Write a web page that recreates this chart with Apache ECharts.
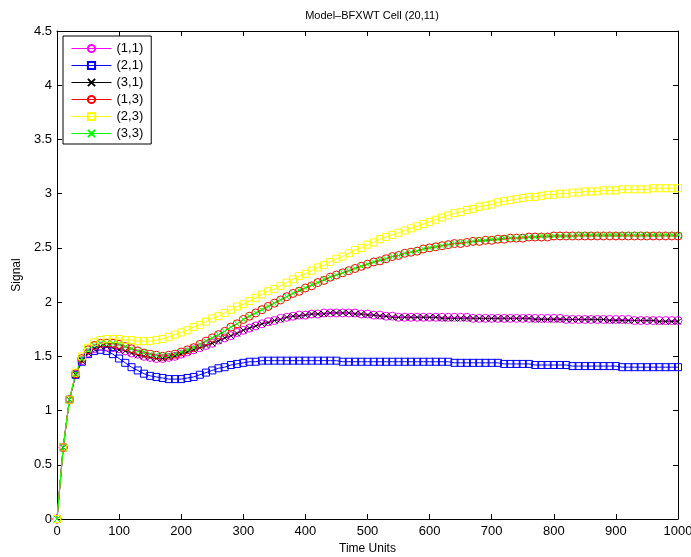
<!DOCTYPE html>
<html>
<head>
<meta charset="utf-8">
<script src="https://cdn.jsdelivr.net/npm/echarts@6/dist/echarts.min.js"></script>
<style>
    html, body { margin: 0; padding: 0; background: #fff; }
    #chart { width: 691px; height: 557px; }
</style>
</head>
<body>
<div id="chart"></div>
<script>
// sampling grid: every 10 time units, 0..1000
const time = Array.from({length: 101}, (_, i) => i * 10)

const xTicks = [0, 100, 200, 300, 400, 500, 600, 700, 800, 900, 1000]
const yTicks = [0, 0.5, 1, 1.5, 2, 2.5, 3, 3.5, 4, 4.5]

const s11 = [
    0, 0.66, 1.10, 1.33, 1.46, 1.53, 1.57, 1.59, 1.59, 1.58,
    1.57, 1.55, 1.53, 1.52, 1.50, 1.49, 1.48, 1.48, 1.49, 1.50,
    1.52, 1.54, 1.56, 1.58, 1.60, 1.62, 1.65, 1.67, 1.69, 1.72,
    1.74, 1.76, 1.78, 1.80, 1.82, 1.83, 1.85, 1.86, 1.87, 1.88,
    1.88, 1.89, 1.89, 1.90, 1.90, 1.90, 1.90, 1.90, 1.90, 1.89,
    1.89, 1.88, 1.88, 1.87, 1.87, 1.86, 1.86, 1.86, 1.86, 1.86,
    1.86, 1.86, 1.86, 1.86, 1.86, 1.86, 1.86, 1.85, 1.85, 1.85,
    1.85, 1.85, 1.85, 1.85, 1.85, 1.85, 1.85, 1.85, 1.85, 1.85,
    1.85, 1.85, 1.84, 1.84, 1.84, 1.84, 1.84, 1.84, 1.84, 1.84,
    1.84, 1.84, 1.84, 1.83, 1.83, 1.83, 1.83, 1.83, 1.83, 1.83,
    1.83
]
const s21 = [
    0, 0.66, 1.10, 1.33, 1.45, 1.52, 1.55, 1.56, 1.55, 1.52,
    1.48, 1.44, 1.40, 1.37, 1.34, 1.32, 1.31, 1.30, 1.29, 1.29,
    1.29, 1.30, 1.31, 1.33, 1.35, 1.37, 1.39, 1.40, 1.42, 1.43,
    1.44, 1.45, 1.45, 1.46, 1.46, 1.46, 1.46, 1.46, 1.46, 1.46,
    1.46, 1.46, 1.46, 1.46, 1.46, 1.46, 1.45, 1.45, 1.45, 1.45,
    1.45, 1.45, 1.45, 1.45, 1.45, 1.45, 1.45, 1.45, 1.45, 1.45,
    1.45, 1.45, 1.45, 1.45, 1.44, 1.44, 1.44, 1.44, 1.44, 1.44,
    1.44, 1.44, 1.43, 1.43, 1.43, 1.43, 1.43, 1.42, 1.42, 1.42,
    1.42, 1.42, 1.42, 1.41, 1.41, 1.41, 1.41, 1.41, 1.41, 1.41,
    1.41, 1.40, 1.40, 1.40, 1.40, 1.40, 1.40, 1.40, 1.40, 1.40,
    1.40
]
const s31 = [
    0, 0.66, 1.10, 1.33, 1.46, 1.53, 1.57, 1.59, 1.59, 1.58,
    1.56, 1.55, 1.53, 1.51, 1.50, 1.49, 1.48, 1.48, 1.49, 1.50,
    1.52, 1.54, 1.56, 1.58, 1.60, 1.62, 1.64, 1.67, 1.69, 1.71,
    1.74, 1.76, 1.78, 1.80, 1.81, 1.83, 1.84, 1.86, 1.87, 1.87,
    1.88, 1.89, 1.89, 1.89, 1.90, 1.90, 1.90, 1.90, 1.89, 1.89,
    1.88, 1.88, 1.87, 1.87, 1.86, 1.86, 1.86, 1.86, 1.86, 1.86,
    1.86, 1.86, 1.85, 1.85, 1.85, 1.85, 1.85, 1.85, 1.85, 1.85,
    1.85, 1.85, 1.85, 1.85, 1.85, 1.85, 1.85, 1.84, 1.84, 1.84,
    1.84, 1.84, 1.84, 1.84, 1.84, 1.84, 1.84, 1.84, 1.84, 1.83,
    1.83, 1.83, 1.83, 1.83, 1.83, 1.83, 1.83, 1.82, 1.82, 1.82,
    1.82
]
const s13 = [
    0, 0.66, 1.10, 1.34, 1.48, 1.56, 1.60, 1.62, 1.62, 1.62,
    1.61, 1.59, 1.57, 1.55, 1.53, 1.52, 1.51, 1.50, 1.51, 1.52,
    1.54, 1.56, 1.58, 1.61, 1.64, 1.67, 1.70, 1.73, 1.77, 1.80,
    1.84, 1.87, 1.90, 1.93, 1.96, 1.99, 2.02, 2.05, 2.08, 2.10,
    2.13, 2.15, 2.18, 2.20, 2.23, 2.25, 2.27, 2.29, 2.31, 2.33,
    2.35, 2.37, 2.38, 2.40, 2.42, 2.43, 2.45, 2.46, 2.47, 2.49,
    2.50, 2.51, 2.52, 2.53, 2.54, 2.54, 2.55, 2.56, 2.56, 2.57,
    2.57, 2.58, 2.58, 2.59, 2.59, 2.59, 2.60, 2.60, 2.60, 2.60,
    2.61, 2.61, 2.61, 2.61, 2.61, 2.61, 2.61, 2.61, 2.61, 2.61,
    2.61, 2.61, 2.61, 2.61, 2.61, 2.61, 2.61, 2.61, 2.61, 2.61,
    2.61
]
const s23 = [
    0, 0.66, 1.10, 1.35, 1.50, 1.58, 1.63, 1.65, 1.66, 1.66,
    1.66, 1.65, 1.65, 1.64, 1.64, 1.64, 1.65, 1.66, 1.68, 1.70,
    1.72, 1.74, 1.77, 1.79, 1.82, 1.85, 1.87, 1.90, 1.93, 1.96,
    1.98, 2.01, 2.04, 2.07, 2.10, 2.12, 2.15, 2.18, 2.21, 2.24,
    2.26, 2.29, 2.32, 2.34, 2.37, 2.40, 2.42, 2.45, 2.48, 2.50,
    2.53, 2.55, 2.58, 2.60, 2.62, 2.64, 2.66, 2.68, 2.70, 2.72,
    2.74, 2.76, 2.78, 2.80, 2.82, 2.83, 2.85, 2.86, 2.88, 2.89,
    2.90, 2.92, 2.93, 2.94, 2.95, 2.96, 2.97, 2.97, 2.98, 2.99,
    2.99, 3.00, 3.00, 3.01, 3.01, 3.02, 3.02, 3.02, 3.03, 3.03,
    3.03, 3.04, 3.04, 3.04, 3.04, 3.04, 3.05, 3.05, 3.05, 3.05,
    3.05
]
const s33 = [
    0, 0.66, 1.10, 1.34, 1.48, 1.56, 1.60, 1.62, 1.62, 1.62,
    1.61, 1.59, 1.57, 1.55, 1.54, 1.52, 1.51, 1.51, 1.51, 1.52,
    1.54, 1.56, 1.58, 1.61, 1.64, 1.67, 1.70, 1.73, 1.77, 1.80,
    1.84, 1.87, 1.90, 1.93, 1.96, 1.99, 2.02, 2.05, 2.08, 2.11,
    2.13, 2.16, 2.18, 2.21, 2.23, 2.25, 2.27, 2.29, 2.31, 2.33,
    2.35, 2.37, 2.39, 2.40, 2.42, 2.43, 2.45, 2.46, 2.47, 2.49,
    2.50, 2.51, 2.52, 2.53, 2.54, 2.55, 2.55, 2.56, 2.57, 2.57,
    2.58, 2.58, 2.59, 2.59, 2.59, 2.60, 2.60, 2.60, 2.61, 2.61,
    2.61, 2.61, 2.61, 2.61, 2.62, 2.62, 2.62, 2.62, 2.62, 2.62,
    2.62, 2.62, 2.62, 2.62, 2.62, 2.62, 2.62, 2.62, 2.62, 2.62,
    2.62
]

const FONT = 'Liberation Sans'
const X_MARK = 'path://M0,0L10,10M10,0L0,10'

const names = ['(1,1)', '(2,1)', '(3,1)', '(1,3)', '(2,3)', '(3,3)']
const colors = ['#ff00ff', '#0000ff', '#000000', '#ff0000', '#ffff00', '#00ff00']

function pairs(vals) {
    return vals.map((v, i) => [time[i], v])
}

function line(idx, vals, symbol, size) {
    const color = colors[idx]
    return {
        name: names[idx],
        type: 'line',
        data: pairs(vals),
        symbol: symbol,
        symbolSize: size,
        showSymbol: true,
        lineStyle: {color: color, width: 1},
        itemStyle: {color: 'none', borderColor: color, borderWidth: 1},
        emphasis: {disabled: true}
    }
}

const chart = echarts.init(document.getElementById('chart'))

const axisBox = {
    axisLine: {show: true, onZero: false, lineStyle: {color: '#000', width: 1}},
    axisTick: {show: true, inside: true, length: 5, lineStyle: {color: '#000'}},
    splitLine: {show: false}
}

chart.setOption({
    animation: false,
    backgroundColor: '#fff',
    textStyle: {fontFamily: FONT},
    title: {
        text: 'Model–BFXWT Cell (20,11)',
        left: 367,
        top: 5,
        textAlign: 'center',
        textStyle: {fontFamily: FONT, fontSize: 11, fontWeight: 'normal', color: '#000'}
    },
    legend: {
        orient: 'vertical',
        left: 63,
        top: 36,
        itemWidth: 40,
        itemHeight: 9,
        itemGap: 4,
        padding: [6, 8, 4, 8],
        backgroundColor: '#fff',
        borderColor: '#000',
        borderWidth: 1,
        textStyle: {fontFamily: FONT, fontSize: 13, color: '#000'},
        data: names.map((n, i) => ({name: n, lineStyle: {color: colors[i], width: 1}}))
    },
    grid: {left: 57, right: 13, top: 31, bottom: 38, outerBoundsMode: 'none', containLabel: false},
    xAxis: [{
        type: 'value',
        min: xTicks[0],
        max: xTicks[xTicks.length - 1],
        interval: 100,
        name: 'Time Units',
        nameLocation: 'middle',
        nameGap: 23,
        nameTextStyle: {fontFamily: FONT, fontSize: 12, color: '#000'},
        axisLabel: {fontFamily: FONT, fontSize: 13, color: '#000', margin: 6, formatter: v => String(v)},
        ...axisBox
    }, {
        type: 'value',
        position: 'top',
        min: xTicks[0],
        max: xTicks[xTicks.length - 1],
        interval: 100,
        axisLabel: {show: false},
        ...axisBox
    }],
    yAxis: [{
        type: 'value',
        min: yTicks[0],
        max: yTicks[yTicks.length - 1],
        interval: 0.5,
        name: 'Signal',
        nameLocation: 'middle',
        nameGap: 29,
        nameTextStyle: {fontFamily: FONT, fontSize: 12, color: '#000'},
        axisLabel: {fontFamily: FONT, fontSize: 13, color: '#000', margin: 5},
        ...axisBox
    }, {
        type: 'value',
        position: 'right',
        min: yTicks[0],
        max: yTicks[yTicks.length - 1],
        interval: 0.5,
        axisLabel: {show: false},
        ...axisBox
    }],
    series: [
        line(0, s11, 'circle', 8),
        line(1, s21, 'rect', 7),
        line(2, s31, X_MARK, 6),
        line(3, s13, 'circle', 8),
        line(4, s23, 'rect', 7),
        line(5, s33, X_MARK, 6)
    ]
})
</script>
</body>
</html>
